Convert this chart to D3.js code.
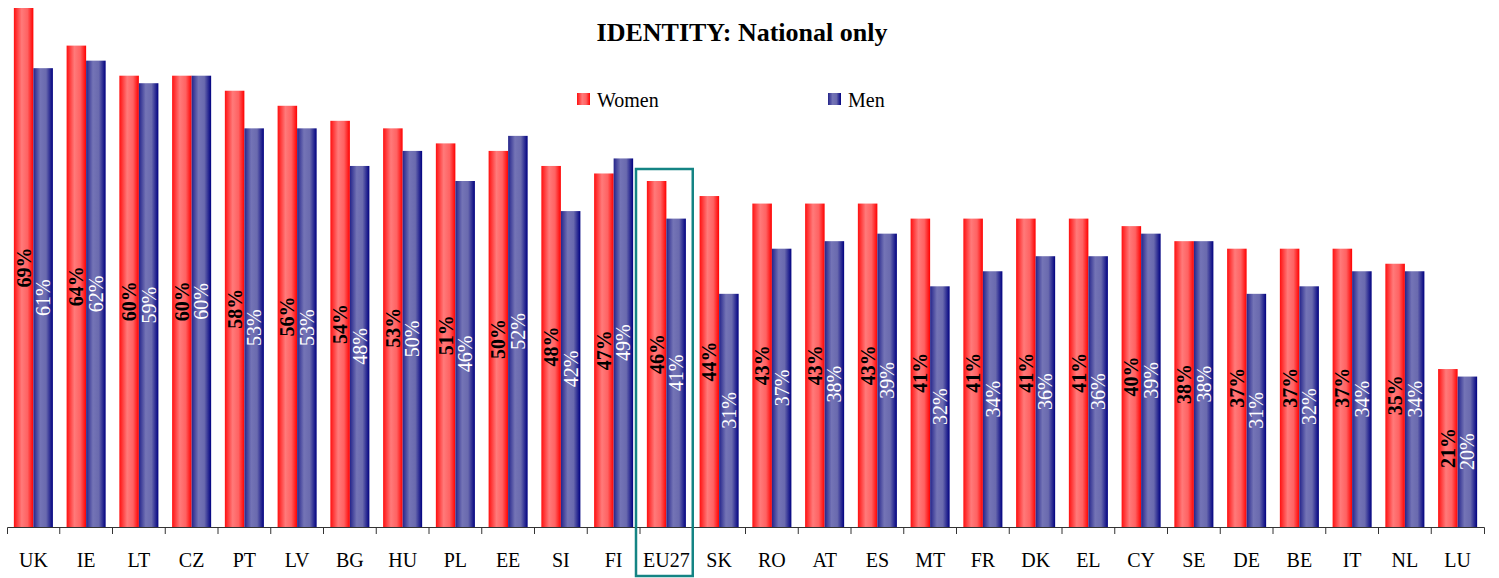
<!DOCTYPE html>
<html>
<head>
<meta charset="utf-8">
<script src="https://cdn.jsdelivr.net/npm/d3@7"></script>
<style>
  body { margin: 0; background: #fff; }
  svg { display: block; font-family: "Liberation Serif", "Times New Roman", serif; }
</style>
</head>
<body>
<svg width="1499" height="578"></svg>
<script>
const countries = ["UK", "IE", "LT", "CZ", "PT", "LV", "BG", "HU", "PL", "EE", "SI", "FI", "EU27", "SK",
  "RO", "AT", "ES", "MT", "FR", "DK", "EL", "CY", "SE", "DE", "BE", "IT", "NL", "LU"];
const women = [69, 64, 60, 60, 58, 56, 54, 53, 51, 50, 48, 47, 46, 44, 43, 43, 43, 41, 41, 41, 41, 40, 38, 37, 37, 37, 35, 21];
const men = [61, 62, 59, 60, 53, 53, 48, 50, 46, 52, 42, 49, 41, 31, 37, 38, 39, 32, 34, 36, 36, 39, 38, 31, 32, 34, 34, 20];
const seriesNames = ["Women", "Men"];
const highlight = "EU27";

const svg = d3.select("svg");
const baseY = 527;

const x = d3.scaleBand().domain(countries).range([7, 1484]);
const y = d3.scaleLinear().domain([0, 69]).range([baseY, 8]);
const barW = x.bandwidth() * 0.37;
const off = (x.bandwidth() - 2 * barW) / 2;

// gradients like the old Excel fills
const defs = svg.append("defs");
function grad(id, stops) {
  const g = defs.append("linearGradient").attr("id", id)
    .attr("x1", "0%").attr("x2", "100%").attr("y1", "0%").attr("y2", "0%");
  stops.forEach(([o, c]) => g.append("stop").attr("offset", o).attr("stop-color", c));
}
grad("gWomen", [[0, "#ff1010"], [0.4, "#ff7a7a"], [0.7, "#ff6262"], [1, "#ff0000"]]);
grad("gMen", [[0, "#24248a"], [0.35, "#7474b6"], [0.65, "#6a6aae"], [1, "#000080"]]);
const fills = ["url(#gWomen)", "url(#gMen)"];

// title
svg.append("text")
  .attr("x", 742).attr("y", 41)
  .attr("text-anchor", "middle")
  .attr("font-size", 26).attr("font-weight", "bold")
  .text("IDENTITY: National only");

// legend
const legX = [577, 828];
seriesNames.forEach((name, i) => {
  svg.append("rect").attr("x", legX[i]).attr("y", 93).attr("width", 13).attr("height", 12)
    .attr("fill", fills[i]);
  svg.append("text").attr("x", legX[i] + 20).attr("y", 107)
    .attr("font-size", 20).text(name);
});

// bars
const series = [women, men];
series.forEach((vals, s) => {
  svg.append("g").selectAll("rect")
    .data(vals)
    .join("rect")
    .attr("x", (d, i) => x(countries[i]) + off + s * barW)
    .attr("y", d => y(d))
    .attr("width", barW)
    .attr("height", d => baseY - y(d))
    .attr("fill", fills[s]);
});

// value labels, rotated
series.forEach((vals, s) => {
  svg.append("g").selectAll("text")
    .data(vals)
    .join("text")
    .attr("transform", (d, i) => {
      const cx = x(countries[i]) + off + s * barW + barW / 2 + 7;
      const cy = (y(d) + baseY) / 2;
      return `translate(${cx},${cy}) rotate(-90)`;
    })
    .attr("text-anchor", "middle")
    .attr("font-size", 20)
    .attr("font-weight", s === 0 ? "bold" : "normal")
    .attr("fill", s === 0 ? "#000" : "#fff")
    .text(d => d + "%");
});

// x axis
const axis = svg.append("g")
  .attr("transform", `translate(0,${baseY})`)
  .call(d3.axisBottom(x).tickSize(0).tickPadding(26).tickSizeOuter(7));
axis.select(".domain").attr("stroke", "#333");
axis.selectAll("text").attr("font-size", 20).attr("font-family", "Liberation Serif, serif").attr("fill", "#000");

svg.append("g").selectAll("line")
  .data(d3.range(1, countries.length))
  .join("line")
  .attr("x1", i => x.range()[0] + i * x.step())
  .attr("x2", i => x.range()[0] + i * x.step())
  .attr("y1", baseY).attr("y2", baseY + 7)
  .attr("stroke", "#333");

// highlight box around EU27
const hi = countries.indexOf(highlight);
svg.append("rect")
  .attr("x", x(highlight) - 4)
  .attr("y", y(women[hi]) - 12)
  .attr("width", x.bandwidth() + 4)
  .attr("height", 576 - (y(women[hi]) - 12))
  .attr("fill", "none")
  .attr("stroke", "#148484")
  .attr("stroke-width", 2.5);
</script>
</body>
</html>
